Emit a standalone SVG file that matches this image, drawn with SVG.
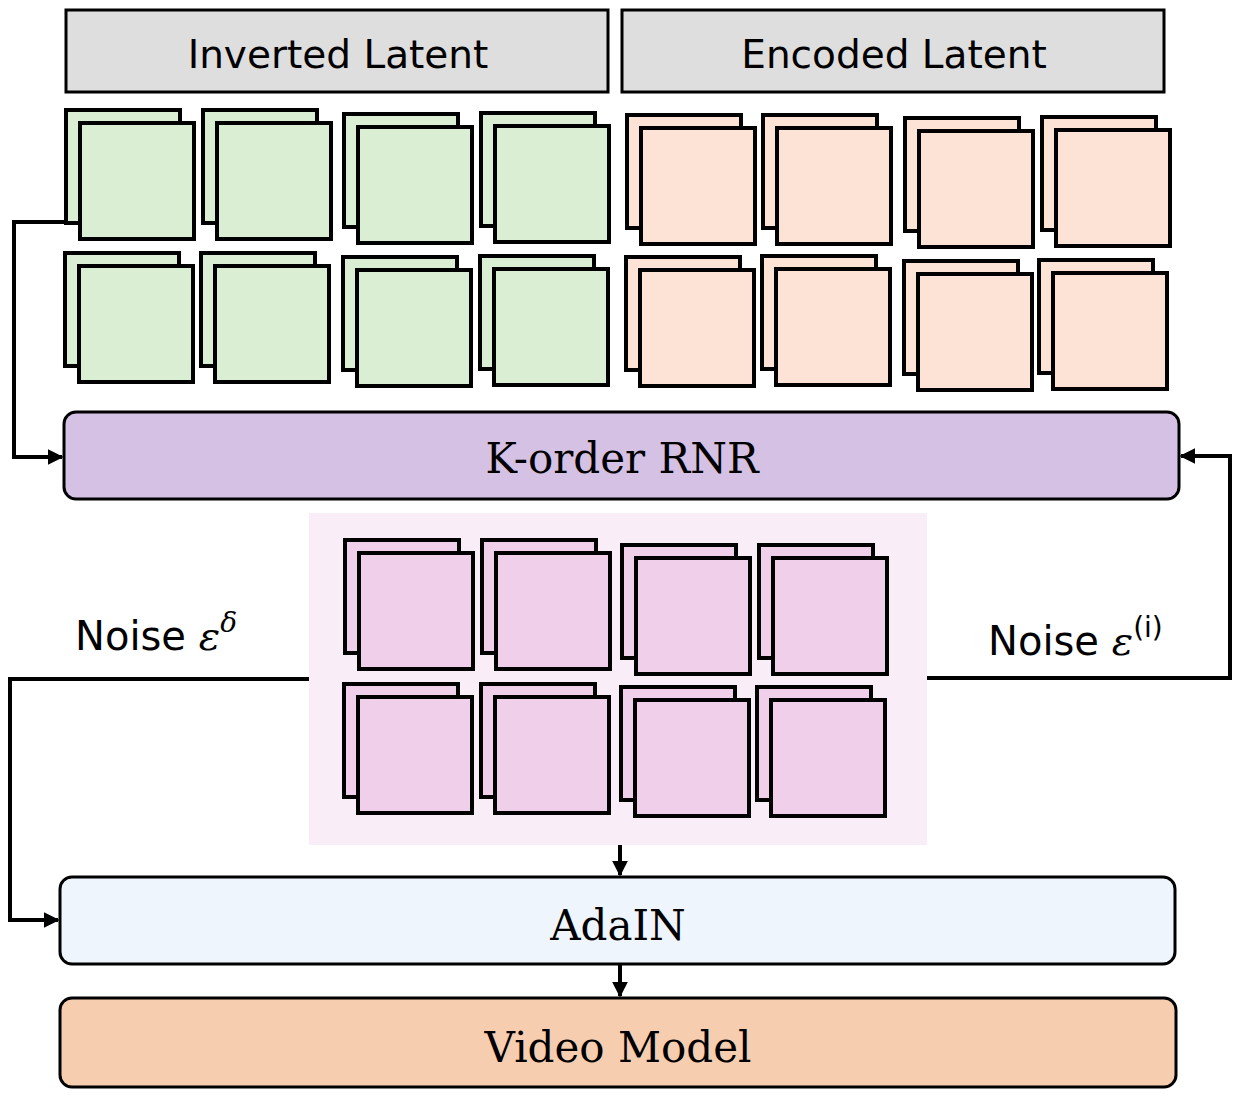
<svg xmlns="http://www.w3.org/2000/svg" width="1244" height="1098" viewBox="0 0 1244 1098">
<defs>
<style>
.g{fill:#d9eed2;stroke:#000;stroke-width:4}
.o{fill:#fce3d6;stroke:#000;stroke-width:4}
.p{fill:#f0cfeb;stroke:#000;stroke-width:4}
.hd{fill:#dedede;stroke:#000;stroke-width:3}
.bx{stroke:#000;stroke-width:3}
.c{fill:none;stroke:#000;stroke-width:4}
.sans{font-family:"DejaVu Sans","Liberation Sans",sans-serif;fill:#000}
.serif{font-family:"DejaVu Serif","Liberation Serif",serif;fill:#000}
</style>
<marker id="ah" viewBox="0 0 10 10" refX="9" refY="5" markerWidth="4" markerHeight="4" orient="auto"><path d="M0,0L10,5L0,10z" fill="#000"/></marker>
<g id="pg"><rect x="-14" y="-13" width="114" height="113"/><rect x="0" y="0" width="114" height="116"/></g>
</defs>
<g id="hdr-inv"><rect class="hd" x="66" y="10" width="542" height="82"/><text class="sans" x="338" y="68" font-size="39" text-anchor="middle">Inverted Latent</text></g>
<g id="hdr-enc"><rect class="hd" x="622" y="10" width="542" height="82"/><text class="sans" x="894" y="68" font-size="39" text-anchor="middle">Encoded Latent</text></g>
<g id="inverted" class="g">
<use href="#pg" x="80" y="123"/><use href="#pg" x="217" y="123"/><use href="#pg" x="358" y="127"/><use href="#pg" x="495" y="126"/>
<use href="#pg" x="79" y="266"/><use href="#pg" x="215" y="266"/><use href="#pg" x="357" y="270"/><use href="#pg" x="494" y="269"/>
</g>
<g id="encoded" class="o">
<use href="#pg" x="641" y="128"/><use href="#pg" x="777" y="128"/><use href="#pg" x="919" y="131"/><use href="#pg" x="1056" y="130"/>
<use href="#pg" x="640" y="270"/><use href="#pg" x="776" y="269"/><use href="#pg" x="918" y="274"/><use href="#pg" x="1053" y="273"/>
</g>
<g id="rnr"><rect class="bx" x="64" y="412" width="1115" height="87" rx="12" fill="#d4c1e3"/><text class="serif" x="622" y="473" font-size="42" text-anchor="middle">K-order RNR</text></g>
<g id="noise"><rect x="309" y="513" width="618" height="332" fill="#f9eef8"/>
<g class="p">
<use href="#pg" x="359" y="553"/><use href="#pg" x="496" y="553"/><use href="#pg" x="636" y="558"/><use href="#pg" x="773" y="558"/>
<use href="#pg" x="358" y="697"/><use href="#pg" x="495" y="697"/><use href="#pg" x="635" y="700"/><use href="#pg" x="771" y="700"/>
</g></g>
<g id="adain"><rect class="bx" x="60" y="877" width="1115" height="87" rx="12" fill="#eef5fc"/><text class="serif" x="618" y="940" font-size="42" text-anchor="middle">AdaIN</text></g>
<g id="video"><rect class="bx" x="60" y="998" width="1116" height="89" rx="12" fill="#f7cdb0"/><text class="serif" x="618" y="1062" font-size="42" text-anchor="middle">Video Model</text></g>
<g id="labels">
<text class="sans" x="75" y="650" font-size="40">Noise <tspan font-family="DejaVu Serif,serif" font-style="italic">ε</tspan><tspan font-family="DejaVu Serif,serif" font-style="italic" font-size="28" dy="-18">δ</tspan></text>
<text class="sans" x="988" y="655" font-size="40">Noise <tspan font-family="DejaVu Serif,serif" font-style="italic">ε</tspan><tspan font-size="28" dy="-18">(i)</tspan></text>
</g>
<g id="connectors" class="c">
<path d="M66,222H14V457H62" marker-end="url(#ah)"/>
<path d="M927,678H1230V456H1181" marker-end="url(#ah)"/>
<path d="M309,679H10V920H58" marker-end="url(#ah)"/>
<path d="M620,845V875" marker-end="url(#ah)"/>
<path d="M620,964V996" marker-end="url(#ah)"/>
</g>
</svg>
